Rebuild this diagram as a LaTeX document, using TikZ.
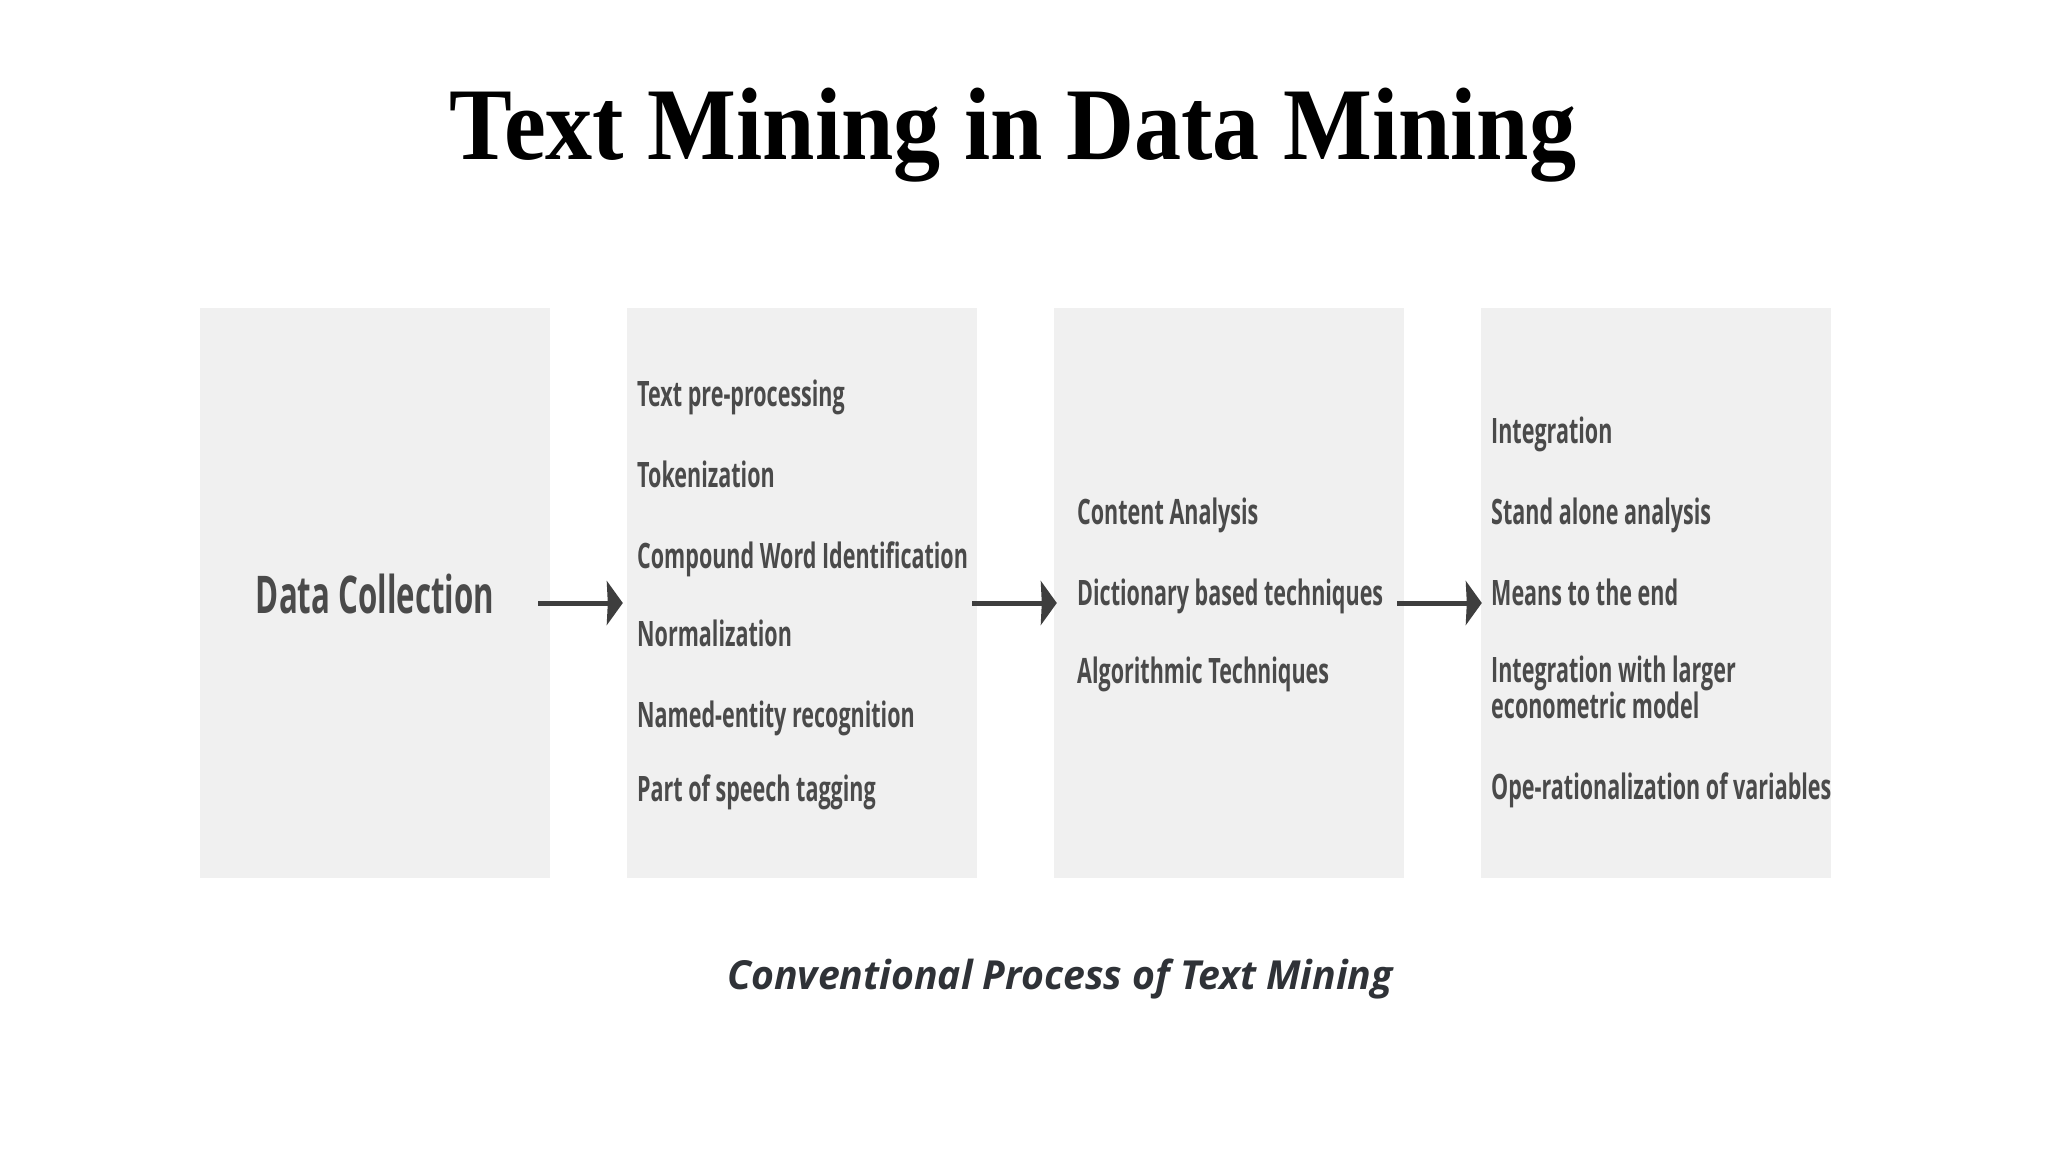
\documentclass[tikz,border=0pt]{standalone}
\usepackage{fontspec}
\usetikzlibrary{arrows.meta}
\newfontfamily\titlefont{Liberation Serif}[FakeStretch=0.914]
\newfontfamily\boxfont{Open Sans}[FakeStretch=0.615]
\newfontfamily\bigfont{Open Sans}[FakeStretch=0.6]
\newfontfamily\capfont{Open Sans}[FakeStretch=0.98]
\definecolor{boxfill}{HTML}{F0F0F0}
\definecolor{itemtext}{HTML}{4A4A4A}
\definecolor{arrowcol}{HTML}{3E3E3E}
\definecolor{captext}{HTML}{2F3237}
\tikzset{
  panel/.style={fill=boxfill, draw=none, inner sep=0pt, minimum width=350pt, minimum height=570pt},
  item/.style={anchor=base west, inner sep=0pt, text=itemtext, font=\boxfont\bfseries\fontsize{35}{34}\selectfont, align=left},
  bigitem/.style={anchor=base, inner sep=0pt, text=itemtext, font=\bigfont\bfseries\fontsize{52}{56}\selectfont},
  flow/.style={draw=arrowcol, line width=5pt, -{Triangle[length=16pt, width=44pt, inset=1pt]}},
}
\begin{document}
\begin{tikzpicture}[x=1pt, y=-1pt]
\useasboundingbox[fill=white] (0,0) rectangle (2048,1152);
% title
\node[anchor=base, inner sep=0pt, font=\titlefont\bfseries\fontsize{103}{110}\selectfont] (title) at (1013,159) {Text Mining in Data Mining};
% panels
\node[panel] (b1) at (375,593) {};
\node[panel] (b2) at (802,593) {};
\node[panel] (b3) at (1229,593) {};
\node[panel] (b4) at (1656,593) {};
% panel 1
\node[bigitem] (dc) at (375,613) {Data Collection};
% panel 2
\node[item] (p1) at (637,406) {Text pre-processing};
\node[item] (p2) at (637,487) {Tokenization};
\node[item] (p3) at (637,568) {Compound Word Identification};
\node[item] (p4) at (637,646) {Normalization};
\node[item] (p5) at (637,727) {Named-entity recognition};
\node[item] (p6) at (637,801) {Part of speech tagging};
% panel 3
\node[item] (a1) at (1077,524) {Content Analysis};
\node[item] (a2) at (1077,605) {Dictionary based techniques};
\node[item] (a3) at (1077,683) {Algorithmic Techniques};
% panel 4
\node[item] (r1) at (1491,443) {Integration};
\node[item] (r2) at (1491,524) {Stand alone analysis};
\node[item] (r3) at (1491,605) {Means to the end};
\node[item] (r4) at (1491,718) {Integration with larger\\econometric model};
\node[item] (r5) at (1491,799) {Ope-rationalization of variables};
% arrows
\draw[flow] ([shift={(-12,10)}]b1.east) -- ([shift={(-4,10)}]b2.west);
\draw[flow] ([shift={(-5,10)}]b2.east) -- ([shift={(3,10)}]b3.west);
\draw[flow] ([shift={(-7,10)}]b3.east) -- ([shift={(1,10)}]b4.west);
% caption
\node[anchor=base, inner sep=0pt, text=captext, font=\capfont\bfseries\itshape\fontsize{40}{44}\selectfont] (cap) at (1060,989) {Conventional Process of Text Mining};
\end{tikzpicture}
\end{document}
